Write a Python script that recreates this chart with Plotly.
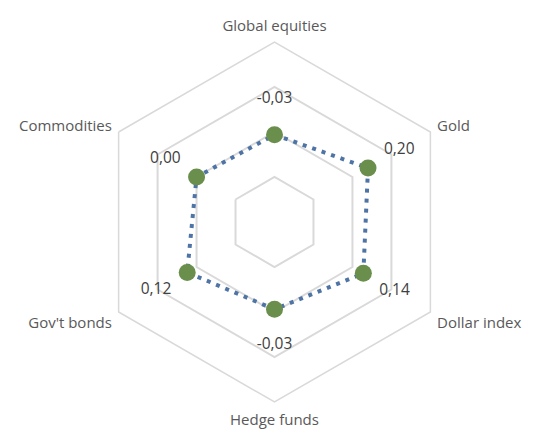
import plotly.graph_objects as go

categories = ["Global equities", "Gold", "Dollar index", "Hedge funds", "Gov't bonds", "Commodities"]
values = [-0.03, 0.20, 0.14, -0.03, 0.12, 0.00]
value_labels = ["-0,03", "0,20", "0,14", "-0,03", "0,12", "0,00"]
radial_ticks = [-0.5, 0, 0.5, 1]

# radial axis spans [axis_min, axis_max]; r is measured from axis_min
axis_min, axis_max = -1.0, 1.0
label_offset = 0.4

r_pts = [v - axis_min for v in values]
r_lbl = [v - axis_min + label_offset for v in values]
r_ticks = [t - axis_min for t in radial_ticks]

fig = go.Figure()
fig.add_trace(go.Scatterpolar(
    r=r_pts + [r_pts[0]],
    theta=categories + [categories[0]],
    mode="lines",
    line=dict(color="#4e74a6", width=4, dash="4px,6px"),
    hoverinfo="skip",
    showlegend=False,
))
fig.add_trace(go.Scatterpolar(
    r=r_pts,
    theta=categories,
    mode="markers",
    marker=dict(color="#6a8e4b", size=17),
    customdata=values,
    hovertemplate="%{theta}: %{customdata}<extra></extra>",
    showlegend=False,
))
fig.add_trace(go.Scatterpolar(
    r=r_lbl,
    theta=categories,
    mode="text",
    text=value_labels,
    textfont=dict(family="Open Sans", size=15.5, color="#404040"),
    cliponaxis=False,
    hoverinfo="skip",
    showlegend=False,
))

fig.update_layout(
    width=534,
    height=430,
    margin=dict(l=7, r=8, t=34, b=36),
    paper_bgcolor="white",
    font=dict(family="Open Sans", size=15, color="#595959"),
    polar=dict(
        bgcolor="white",
        gridshape="linear",
        radialaxis=dict(
            range=[0, axis_max - axis_min],
            tickvals=r_ticks,
            showticklabels=False,
            ticks="",
            showline=False,
            gridcolor="#d9d9d9",
            gridwidth=1.5,
        ),
        angularaxis=dict(
            direction="clockwise",
            rotation=90,
            showgrid=False,
            ticks="outside",
            ticklen=4,
            tickcolor="rgba(0,0,0,0)",
            linecolor="#d9d9d9",
            linewidth=1.5,
            tickfont=dict(family="Open Sans", size=15, color="#595959"),
        ),
    ),
)

fig.write_html("out.html")
